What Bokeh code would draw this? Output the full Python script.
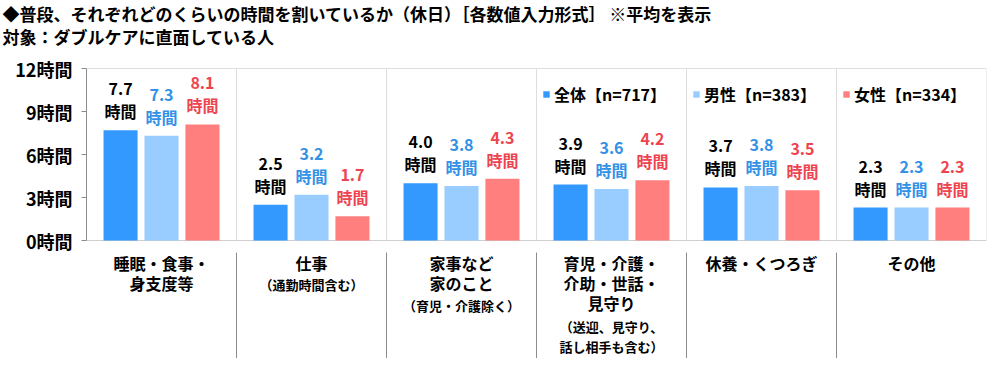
import numpy as np
from bokeh.plotting import figure
from bokeh.models import Range1d, FixedTicker, ColumnDataSource, Title
from bokeh.core.properties import value
from bokeh.embed import file_html
from bokeh.resources import INLINE

FONT = "Noto Sans CJK JP"

# ---- data ----
categories = ["睡眠・食事・\n身支度等", "仕事", "家事など\n家のこと",
              "育児・介護・\n介助・世話・\n見守り", "休養・くつろぎ", "その他"]
notes = ["", "（通勤時間含む）", "（育児・介護除く）",
         "（送迎、見守り、\n話し相手も含む）", "", ""]
series_names = ["全体【n=717】", "男性【n=383】", "女性【n=334】"]
total = [7.7, 2.5, 4.0, 3.9, 3.7, 2.3]
male = [7.3, 3.2, 3.8, 3.6, 3.8, 2.3]
female = [8.1, 1.7, 4.3, 4.2, 3.5, 2.3]
y_ticks = [0, 3, 6, 9, 12]
y_tick_labels = ["0時間", "3時間", "6時間", "9時間", "12時間"]
title1 = "◆普段、それぞれどのくらいの時間を割いているか（休日）［各数値入力形式］ ※平均を表示"
title2 = "対象：ダブルケアに直面している人"

bar_colors = ["#3399FF", "#99CCFF", "#FF7F7F"]
label_colors = ["#000000", "#3391E6", "#EE4450"]

# ---- layout ----
W, H = 990, 358
frame_left, frame_right = 86, 4
s1, s2 = -4, -4      # title standoffs
frame_top = 54 + s1 + s2   # height taken by the two title rows
px_12 = 68           # canvas y of value 12
px_0 = 240           # canvas y of value 0
ppu = (px_0 - px_12) / 12.0
y_end = 12 + (px_12 - frame_top) / ppu
y_start = -(H - px_0) / ppu

p = figure(width=W, height=H, x_range=Range1d(0, 6), y_range=Range1d(y_start, y_end),
           output_backend="svg", toolbar_location=None, x_axis_location=None,
           min_border_left=frame_left, min_border_right=frame_right,
           min_border_top=0, min_border_bottom=0)
p.outline_line_color = None
p.xgrid.visible = False
p.ygrid.visible = False

# y axis
ax = p.yaxis[0]
ax.bounds = (0, 12)
ax.ticker = FixedTicker(ticks=y_ticks)
ax.major_label_overrides = {t: l for t, l in zip(y_ticks, y_tick_labels)}
ax.minor_tick_line_color = None
ax.major_tick_in = 0
ax.major_tick_out = 5
ax.major_label_standoff = 9
ax.axis_line_color = "#8c8c8c"
ax.major_tick_line_color = "#8c8c8c"
ax.major_label_text_font = FONT
ax.major_label_text_font_style = "bold"
ax.major_label_text_font_size = "18px"
ax.major_label_text_color = "#000000"

n = len(categories)
cx = np.arange(n) + 0.5

# frame lines inside plot
p.segment(x0=np.arange(1, n + 1), y0=0, x1=np.arange(1, n + 1), y1=12,
          line_color="#dedede", line_width=1)
p.segment(x0=[0], y0=[12], x1=[n], y1=[12], line_color="#dedede", line_width=1)
p.segment(x0=[0], y0=[0], x1=[n], y1=[0], line_color="#cfcfcf", line_width=1)

# dividers below axis
div_top = -12 / ppu
p.segment(x0=np.arange(1, n), y0=div_top, x1=np.arange(1, n), y1=y_start,
          line_color="#8c8c8c", line_width=1)

offsets = [-0.273, 0.0, 0.273]
bw = 0.227
for vals, name, bc, lc, off in zip([total, male, female], series_names,
                                   bar_colors, label_colors, offsets):
    src = ColumnDataSource(dict(x=cx + off, top=vals,
                                num=["%.1f" % v for v in vals],
                                unit=["時間"] * n))
    p.vbar(x="x", top="top", bottom=0, width=bw, source=src,
           fill_color=bc, line_color=None, legend_label=name)
    p.text(x="x", y="top", text="num", source=src, y_offset=-41,
           text_align="center", text_baseline="middle",
           text_font=value(FONT), text_font_style="bold",
           text_font_size="16px", text_color=lc)
    p.text(x="x", y="top", text="unit", source=src, y_offset=-19,
           text_align="center", text_baseline="middle",
           text_font=value(FONT), text_font_style="bold",
           text_font_size="16px", text_color=lc)

# category labels: one text per line, 20px apart under the axis
mx, mt, mo = [], [], []
nx, nt, no = [], [], []
for i, (c, nt_str) in enumerate(zip(categories, notes)):
    lines = c.split("\n")
    for k, ln in enumerate(lines):
        mx.append(cx[i]); mt.append(ln); mo.append(22 + 20 * k)
    if nt_str:
        for k, ln in enumerate(nt_str.split("\n")):
            nx.append(cx[i]); nt.append(ln); no.append(23 + 21 * len(lines) + 20 * k)

p.text(x="x", y=0, text="t", y_offset="o",
       source=ColumnDataSource(dict(x=mx, t=mt, o=mo)),
       text_align="center", text_baseline="middle",
       text_font=value(FONT), text_font_style="bold",
       text_font_size="16px", text_color="#000000")
p.text(x="x", y=0, text="t", y_offset="o",
       source=ColumnDataSource(dict(x=nx, t=nt, o=no)),
       text_align="center", text_baseline="middle",
       text_font=value(FONT), text_font_style="bold",
       text_font_size="13px", text_color="#000000")

# legend
lg = p.legend[0]
lg.orientation = "horizontal"
lg.location = (456, 252)
lg.background_fill_alpha = 0
lg.border_line_color = None
lg.padding = 0
lg.margin = 0
lg.spacing = 26
lg.glyph_width = 8
lg.glyph_height = 8
lg.label_standoff = 4
lg.label_height = 20
lg.label_text_font = FONT
lg.label_text_font_style = "bold"
lg.label_text_font_size = "16px"
lg.label_text_color = "#000000"

# titles (subtitle first so the main title sits above it)
p.add_layout(Title(text=title2, align="left", offset=-frame_left + 2, standoff=s2,
                   text_font=FONT, text_font_style="bold",
                   text_font_size="17px", text_color="#000000"), "above")
p.add_layout(Title(text=title1, align="left", offset=-frame_left + 2, standoff=s1,
                   text_font=FONT, text_font_style="bold",
                   text_font_size="17px", text_color="#000000"), "above")

open("out.html", "w").write(file_html(p, INLINE))
